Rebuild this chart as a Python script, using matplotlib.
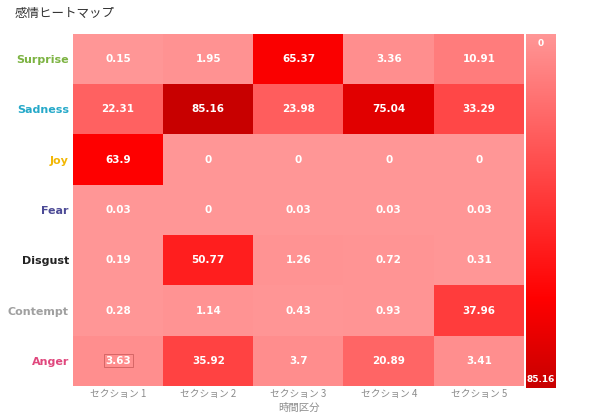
import matplotlib.pyplot as plt
import numpy as np
from matplotlib.colors import LinearSegmentedColormap

plt.rcParams['font.family'] = ['Noto Sans CJK JP', 'DejaVu Sans']

# ── data ─────────────────────────────────────────────
emotions = ["Surprise", "Sadness", "Joy", "Fear", "Disgust", "Contempt", "Anger"]
sections = ["セクション 1", "セクション 2", "セクション 3", "セクション 4", "セクション 5"]
values = [
    [0.15, 1.95, 65.37, 3.36, 10.91],
    [22.31, 85.16, 23.98, 75.04, 33.29],
    [63.9, 0, 0, 0, 0],
    [0.03, 0, 0.03, 0.03, 0.03],
    [0.19, 50.77, 1.26, 0.72, 0.31],
    [0.28, 1.14, 0.43, 0.93, 37.96],
    [3.63, 35.92, 3.7, 20.89, 3.41],
]
label_colors = ["#7cb342", "#26a9c9", "#f2b705", "#4c4a96", "#222222", "#a0a0a0", "#e0477d"]
title = "感情ヒートマップ"
x_label = "時間区分"
# ─────────────────────────────────────────────────────

data = np.array(values)
vmin, vmax = 0, data.max()
cmap = LinearSegmentedColormap.from_list(
    "reds", [(0, "#ff9696"), (0.75, "#ff0000"), (1.0, "#c80000")])

fig = plt.figure(figsize=(6.01, 4.18), dpi=100)
ax = fig.add_axes([73/601, 1-386/418, (524-73)/601, (386-34)/418])

nr, nc = data.shape
ax.imshow(data, cmap=cmap, vmin=vmin, vmax=vmax, aspect='auto',
          interpolation='nearest', extent=(-0.5, nc-0.5, nr-0.5, -0.5))

for i in range(nr):
    for j in range(nc):
        v = data[i, j]
        kw = {}
        if i == 6 and j == 0:
            # the selected cell has a faint outline in the reference
            kw = dict(bbox=dict(boxstyle="square,pad=0.15", fc="none", ec="#d06060", lw=0.6))
        ax.text(j, i, f"{v:g}", ha='center', va='center', color='white',
                fontsize=7.5, fontweight='bold', family='DejaVu Sans', **kw)

ax.set_xticks(range(nc))
ax.set_xticklabels(sections, fontsize=7, color='#8c8c8c')
ax.set_yticks(range(nr))
ax.set_yticklabels(emotions, fontsize=8, fontweight='bold', family='DejaVu Sans')
for lbl, c in zip(ax.get_yticklabels(), label_colors):
    lbl.set_color(c)
ax.tick_params(axis='x', length=0, pad=2)
ax.tick_params(axis='y', length=0, pad=3)
for s in ax.spines.values():
    s.set_visible(False)
fig.text((73+524)/2/601, 1-408/418, x_label, fontsize=7.5, color='#8c8c8c',
         ha='center', va='center')

# colour bar
cax = fig.add_axes([526/601, 1-388/418, (556-526)/601, (388-34)/418])
grad = np.linspace(vmin, vmax, 256).reshape(-1, 1)
cax.imshow(grad, cmap=cmap, vmin=vmin, vmax=vmax, aspect='auto',
           extent=(0, 1, vmax, vmin))
cax.set_xticks([])
cax.set_yticks([])
for s in cax.spines.values():
    s.set_visible(False)
cax.text(0.5, 0.985, "0", transform=cax.transAxes, ha='center', va='top',
         color='white', fontsize=6.5, fontweight='bold', family='DejaVu Sans')
cax.text(0.5, 0.012, f"{vmax:g}", transform=cax.transAxes, ha='center', va='bottom',
         color='white', fontsize=6.5, fontweight='bold', family='DejaVu Sans')

fig.text(15/601, 1-13/418, title, fontsize=9, color='#333333', ha='left', va='center')

fig.savefig("out.png", dpi=100)
